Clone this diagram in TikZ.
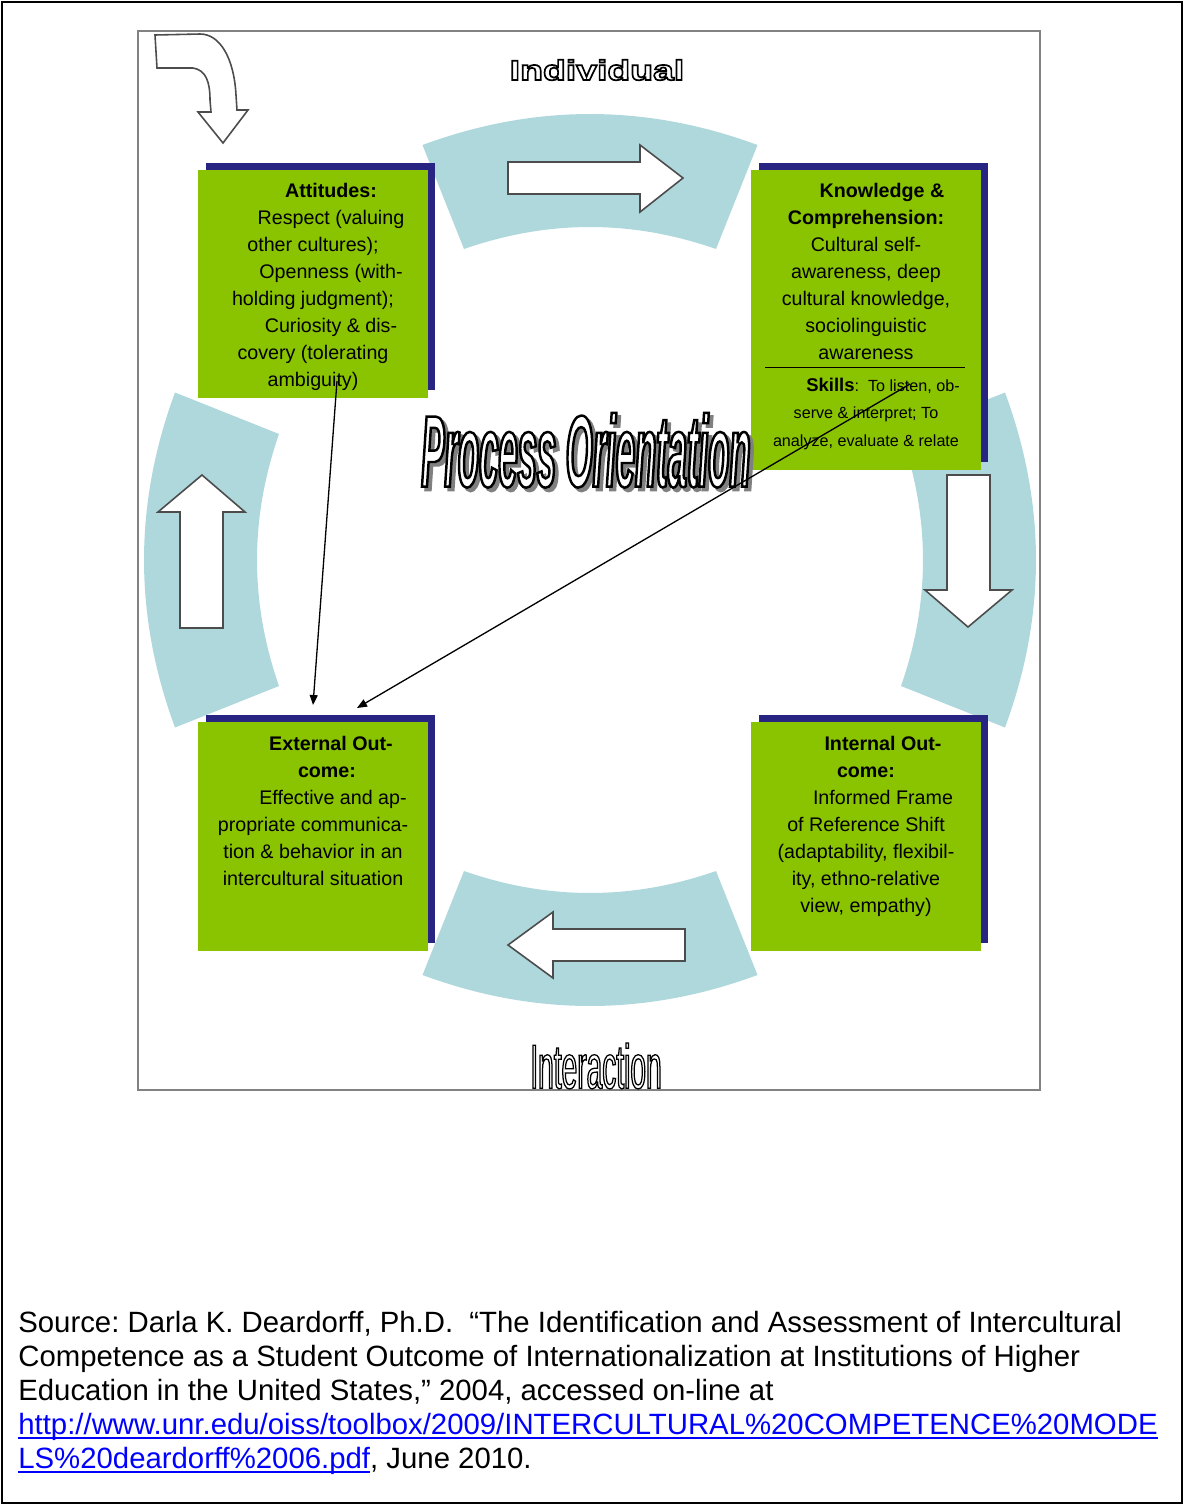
\documentclass[tikz,border=0pt]{standalone}
\usepackage{fontspec}
\setmainfont{Liberation Sans}
\newfontfamily\rimwide{Liberation Sans}[FakeBold=6, FakeStretch=1.33]
\newfontfamily\rimtall{Liberation Sans}[FakeBold=2, FakeStretch=0.45]
\newfontfamily\rimslant{Liberation Sans}[FakeBold=2.4, FakeStretch=0.34]
\usetikzlibrary{arrows.meta, positioning, shadows}

\definecolor{leafgreen}{RGB}{138,196,0}
\definecolor{shadenavy}{RGB}{40,36,130}
\definecolor{ringblue}{RGB}{174,216,220}
\definecolor{framegray}{RGB}{130,130,130}
\definecolor{linkblue}{RGB}{0,0,255}

% white letters with a black rim
\newcommand{\hollow}[1]{\special{pdf:bcolor [1 1 1] [0 0 0]}#1\special{pdf:ecolor}}
% same, with a grey drop behind
\newcommand{\wordart}[1]{\rlap{\kern2pt\raisebox{-2pt}{\textcolor{gray}{#1}}}\hollow{#1}}
% blue underlined address
\newcommand{\weblink}[1]{\textcolor{linkblue}{\setbox0=\hbox{#1}\rlap{\rule[-2.4pt]{\wd0}{0.9pt}}\box0}}

\begin{document}
\begin{tikzpicture}[x=0.02cm, y=-0.02cm,
		panel/.style={fill=leafgreen, minimum width=4.6cm, inner sep=0pt,
			drop shadow={shadow xshift=0.15cm, shadow yshift=0.15cm, fill=shadenavy, opacity=1}},
		paneltext/.style={align=center, inner sep=0pt, font=\fontsize{11.2}{15.4}\selectfont},
		ringpart/.style={fill=ringblue},
		blockarrow/.style={draw=black!70, fill=white, line width=0.9pt},
		pointer/.style={-{Triangle[length=0.2cm, width=0.16cm]}, line width=0.75pt},
		heading/.style={inner sep=0pt}
		]
		
		\useasboundingbox (0,0) rectangle (1184,1505);
		\draw[line width=0.9pt] (2,2) rectangle (1182,1503);
		\draw[framegray, line width=1.1pt] (138,31) rectangle (1040,1090);
		
		% the four ring pieces
		\foreach \a in {0,90,180,270}
		\fill[ringpart, shift={(590,560)}, rotate=\a]
		(-167.5,-415) .. controls (-55.8,-456.3) and (55.8,-456.3) .. (167.5,-415)
		-- (126,-311) .. controls (42,-340.3) and (-42,-340.3) .. (-126,-311) -- cycle;
		
		% block arrows
		\draw[blockarrow] (508,162) -- (640,162) -- (640,145) -- (683,178) -- (640,212) -- (640,194) -- (508,194) -- cycle;
		\draw[blockarrow] (947,475) -- (990,475) -- (990,590) -- (1012,590) -- (968,627) -- (925,590) -- (947,590) -- cycle;
		\draw[blockarrow] (685,929) -- (553,929) -- (553,912) -- (508,945) -- (553,978) -- (553,961) -- (685,961) -- cycle;
		\draw[blockarrow] (180,628) -- (180,512) -- (158,512) -- (202,475) -- (245,512) -- (223,512) -- (223,628) -- cycle;
		\draw[blockarrow] (155,35) -- (157,68) -- (193,68) .. controls (206,70) and (210,82) .. (210,100) -- (211,112) -- (198,112)
		-- (223,143) -- (248,110) -- (237,110) -- (236,95) .. controls (234,58) and (220,34) .. (200,34) -- cycle;
		
		% panels
		\node[panel, minimum height=4.56cm] (att) at (313,284) {};
		\node[panel, minimum height=6cm] (know) at (866,320) {};
		\node[panel, minimum height=4.58cm] (ext) at (313,836.5) {};
		\node[panel, minimum height=4.58cm] (int) at (866,836.5) {};
		
		\node[paneltext, below=0.26cm of att.north] (atttxt) {\hspace*{0.72cm}\textbf{Attitudes:}\\ \hspace*{0.72cm}Respect (valuing\\ other cultures);\\ \hspace*{0.72cm}Openness (with-\\ holding judgment);\\ \hspace*{0.72cm}Curiosity \& dis-\\ covery (tolerating\\ ambiguity)};
		\node[paneltext, below=0.26cm of know.north] (knowtxt) {\hspace*{0.64cm}\textbf{Knowledge \&}\\ \textbf{Comprehension:}\\ Cultural self-\\ awareness, deep\\ cultural knowledge,\\ sociolinguistic\\ awareness};
		\draw (765,367) -- (965,367);
		\node[paneltext, font=\fontsize{9.2}{15.4}\selectfont, below=0.36cm of knowtxt] (skilltxt) {\hspace*{0.68cm}\textbf{\fontsize{10.5}{15.4}\selectfont Skills}:\ \ To listen, ob-\\ serve \& interpret; To\\ analyze, evaluate \& relate};
		\node[paneltext, below=0.28cm of ext.north] (exttxt) {\hspace*{0.72cm}\textbf{External Out-}\\ \hspace*{0.56cm}\textbf{come:}\\ \hspace*{0.8cm}Effective and ap-\\ propriate communica-\\ tion \& behavior in an\\ intercultural situation};
		\node[paneltext, below=0.28cm of int.north] (inttxt) {\hspace*{0.68cm}\textbf{Internal Out-}\\ \textbf{come:}\\ \hspace*{0.68cm}Informed Frame\\ of Reference Shift\\ (adaptability, flexibil-\\ ity, ethno-relative\\ view, empathy)};
		
		% titles
		\node[heading, font=\rimwide\fontsize{16}{18}\selectfont\bfseries] (indiv) at (597,70) {\hollow{Individual}};
		\node[heading, font=\rimtall\fontsize{35.6}{38}\selectfont] (interact) at (596,1066) {\hollow{Interaction}};
		\node[heading, font=\rimslant\fontsize{58}{60}\selectfont\bfseries\itshape] (process) at (586,452) {\wordart{Process Orientation}};
		
		% links into the outcome
		\coordinate (attfoot) at (337,381);
		\coordinate (extin) at (313,705);
		\coordinate (skillfoot) at (910,384);
		\coordinate (extin2) at (357,708);
		\draw[pointer] (attfoot) -- (extin);
		\draw[pointer] (skillfoot) -- (extin2);
		
		\node[anchor=north west, align=left, inner sep=0pt, font=\fontsize{16.7}{19.35}\selectfont\frenchspacing] (source) at (18,1311)
		{Source: Darla K. Deardorff, Ph.D.\ \ “The Identification and Assessment of Intercultural\\
			Competence as a Student Outcome of Internationalization at Institutions of Higher\\
			Education in the United States,” 2004, accessed on-line at\\
			\weblink{http://www.unr.edu/oiss/toolbox/2009/INTERCULTURAL\%20COMPETENCE\%20MODE}\\
			\weblink{LS\%20deardorff\%2006.pdf}, June 2010.};
		
	\end{tikzpicture}
\end{document}
